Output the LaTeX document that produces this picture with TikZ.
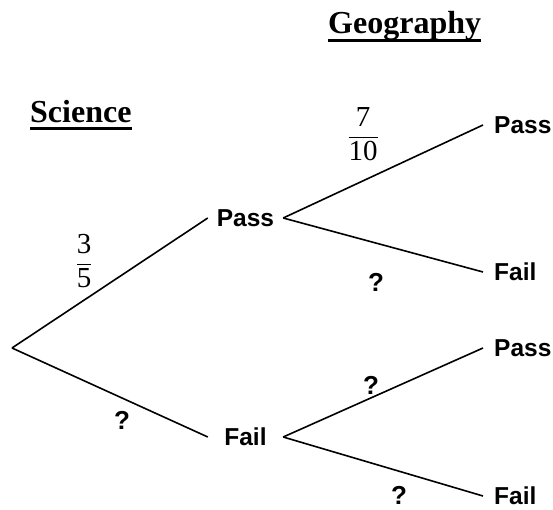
\documentclass[tikz,border=0pt]{standalone}
\usepackage{amsmath}
\usepackage{fontspec}
\setmainfont{Liberation Serif}
\newfontfamily\tagfont{Liberation Sans}
\usepackage{tikz}

\begin{document}
\begin{tikzpicture}[x=1pt,y=-1pt,
  branch/.style={line width=1.6pt},
  head/.style={anchor=base west,inner sep=0pt,font=\fontsize{32}{36}\selectfont\bfseries},
  headline/.style={line width=2.6pt},
  result/.style={font=\fontsize{24.5}{28}\selectfont\tagfont\bfseries},
  midres/.style={result,minimum width=75pt,inner xsep=0pt},
  endres/.style={result,anchor=west,inner xsep=11pt},
  prob/.style={font=\fontsize{29}{33}\selectfont},
  unknown/.style={font=\fontsize{26}{30}\selectfont\tagfont\bfseries}]
  \useasboundingbox (0,0) rectangle (553,510);
  % headings
  \node[head] (sci) at (30,123) {Science};
  \node[head] (geo) at (328,34) {Geography};
  \draw[headline] ([yshift=-5.5pt]sci.base west) -- ([yshift=-5.5pt]sci.base east);
  \draw[headline] ([yshift=-6.5pt]geo.base west) -- ([yshift=-6.5pt]geo.base east);
  % science
  \coordinate (root) at (12,348);
  \node[midres] (sp) at (245.5,218) {Pass};
  \node[midres] (sf) at (245.5,437) {Fail};
  \draw[branch] (root) -- (sp.west);
  \draw[branch] (root) -- (sf.west);
  % geography
  \node[endres] (pp) at (483,125) {Pass};
  \node[endres] (pf) at (483,272) {Fail};
  \node[endres] (fp) at (483,348) {Pass};
  \node[endres] (ff) at (483,496) {Fail};
  \draw[branch] (sp.east) -- (pp.west);
  \draw[branch] (sp.east) -- (pf.west);
  \draw[branch] (sf.east) -- (fp.west);
  \draw[branch] (sf.east) -- (ff.west);
  % probabilities
  \node[prob] (p35) at (84,261) {$\dfrac{\text{3}}{\text{5}}$};
  \node[prob] (p710) at (363,134) {$\dfrac{\text{7}}{\text{10}}$};
  \node[unknown] (q1) at (122,420) {?};
  \node[unknown] (q2) at (376,282) {?};
  \node[unknown] (q3) at (371,385) {?};
  \node[unknown] (q4) at (399,495) {?};
\end{tikzpicture}
\end{document}
